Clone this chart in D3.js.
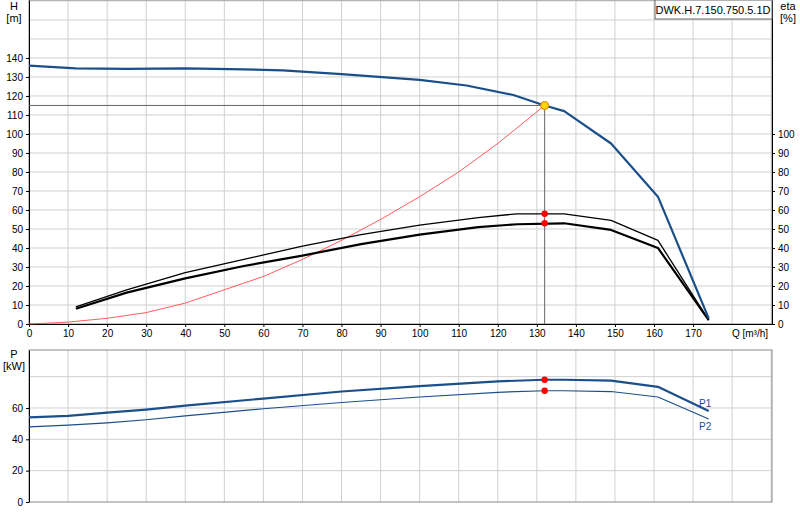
<!DOCTYPE html>
<html><head><meta charset="utf-8">
<script src="https://cdn.jsdelivr.net/npm/d3@7"></script>
<style>body{margin:0;background:#fff;font-family:"Liberation Sans",Arial,sans-serif;}text{font-size:11px;fill:#000;}</style>
</head><body><svg id="c" width="800" height="520"></svg>
<script>
const headQ = [0, 12, 25, 40, 55, 65, 80, 100, 112, 124, 132, 137, 149, 161, 174];
const headH = [136, 134.5, 134.3, 134.5, 134, 133.5, 131.5, 128.5, 125.5, 120.5, 115, 112, 95, 67, 3];
const etaQ = [12, 25, 40, 55, 70, 85, 100, 115, 125, 137, 149, 161, 174];
const etaPump = [9, 18, 27, 34, 41, 47, 52, 56, 58, 58, 54.5, 44, 2];
const etaTotal = [8, 16.5, 24, 30.5, 36, 42, 47, 51, 52.5, 53, 49.5, 40, 2];
const sysQ = [0, 10, 20, 30, 40, 50, 60, 70, 80, 90, 100, 110, 120, 132];
const sysH = [0, 1, 3, 6, 11, 18, 25, 34, 44, 55, 67, 80, 95, 115];
const powQ = [0, 10, 20, 30, 40, 60, 80, 100, 120, 132, 137, 149, 161, 174];
const p1 = [54, 55, 57, 59, 61.5, 66, 70.5, 74, 77, 78, 78, 77.5, 73.5, 58];
const p2 = [48, 49, 50.5, 52.5, 55, 59.5, 63.5, 67, 70, 71, 71, 70.5, 67, 53];
const duty = {q: 132, h: 115, eta1: 58, eta2: 53, p1: 78, p2: 71};
const qTicks = d3.range(0, 171, 10);
const hTicks = d3.range(0, 141, 10);
const etaTicks = d3.range(0, 101, 10);
const pTicks = [0, 20, 40, 60];
const title = "DWK.H.7.150.750.5.1D";

const blue = "#1b4f8a", grid = "#d0d0d0";
const svg = d3.select("#c");
const x = d3.scaleLinear().domain([0, 190.2]).range([29, 772]);
const y = d3.scaleLinear().domain([0, 170.5]).range([324, 0]);
const yp = d3.scaleLinear().domain([0, 97]).range([502, 350]);

function gridLines(ys, yv, top, bottom) {
  const g = svg.append("g");
  d3.range(10, 191, 10).forEach(q => g.append("line").attr("x1", x(q)).attr("x2", x(q))
    .attr("y1", top).attr("y2", bottom).attr("stroke", grid));
  yv.forEach(v => g.append("line").attr("x1", x(0)).attr("x2", 772)
    .attr("y1", ys(v)).attr("y2", ys(v)).attr("stroke", grid));
  g.append("rect").attr("x", x(0)).attr("y", top).attr("width", 772 - x(0)).attr("height", bottom - top)
    .attr("fill", "none").attr("stroke", "#888");
}
gridLines(y, d3.range(10, 171, 10), 0, 324);
gridLines(yp, [20, 40, 60, 80], 350, 502);

// axes
svg.append("g").attr("transform", "translate(29,0)")
  .call(d3.axisLeft(y).tickValues(hTicks).tickSize(3).tickSizeOuter(0));
svg.append("g").attr("transform", "translate(772,0)")
  .call(d3.axisRight(y).tickValues(etaTicks).tickSize(3).tickSizeOuter(0));
svg.append("g").attr("transform", "translate(0,324)")
  .call(d3.axisBottom(x).tickValues(qTicks).tickSize(3).tickSizeOuter(0));
svg.append("g").attr("transform", "translate(29,0)")
  .call(d3.axisLeft(yp).tickValues(pTicks).tickSize(3).tickSizeOuter(0));
svg.selectAll(".tick text").style("font-size", "10px").style("font-family", "Liberation Sans, Arial");
svg.selectAll(".domain").attr("stroke", "#000");

const lbl = (t, tx, ty, a) => svg.append("text").attr("x", tx).attr("y", ty).attr("text-anchor", a || "middle").text(t);
lbl("H", 14, 10); lbl("[m]", 14, 22);
lbl("eta", 788, 10); lbl("[%]", 788, 22);
lbl("P", 14, 358); lbl("[kW]", 14, 370);
lbl("Q [m³/h]", 750, 337).style("font-size", "10px");

svg.append("rect").attr("x", 655).attr("y", 0).attr("width", 117).attr("height", 19)
  .attr("fill", "#fff").attr("stroke", "#666");
lbl(title, 713, 14);

// duty crosshair
svg.append("line").attr("x1", x(0)).attr("x2", x(duty.q)).attr("y1", y(duty.h)).attr("y2", y(duty.h)).attr("stroke", "#666");
svg.append("line").attr("x1", x(duty.q)).attr("x2", x(duty.q)).attr("y1", y(duty.h)).attr("y2", 324).attr("stroke", "#666");

const line = (xs, ys, sy) => d3.line().x((d, i) => x(xs[i])).y(d => sy(d))(ys);
const path = (d, c, w) => svg.append("path").attr("d", d).attr("fill", "none").attr("stroke", c)
  .attr("stroke-width", w).attr("stroke-linejoin", "round");

path(line(sysQ, sysH, y), "#ff3333", 0.8);
path(line(etaQ, etaPump, y), "#000", 1.3);
path(line(etaQ, etaTotal, y), "#000", 2.2);
path(line(headQ, headH, y), blue, 2.2);
path(line(powQ, p1, yp), blue, 2.2);
path(line(powQ, p2, yp), blue, 1.2);

[[duty.eta1, y], [duty.eta2, y], [duty.p1, yp], [duty.p2, yp]].forEach(([v, s]) =>
  svg.append("circle").attr("cx", x(duty.q)).attr("cy", s(v)).attr("r", 3.2).attr("fill", "#ff0000"));
svg.append("circle").attr("cx", x(duty.q)).attr("cy", y(duty.h)).attr("r", 4).attr("fill", "#ffd700").attr("stroke", "#e08000");

lbl("P1", 699, 407, "start").style("fill", blue).style("font-size", "10px");
lbl("P2", 699, 430, "start").style("fill", blue).style("font-size", "10px");
</script></body></html>
